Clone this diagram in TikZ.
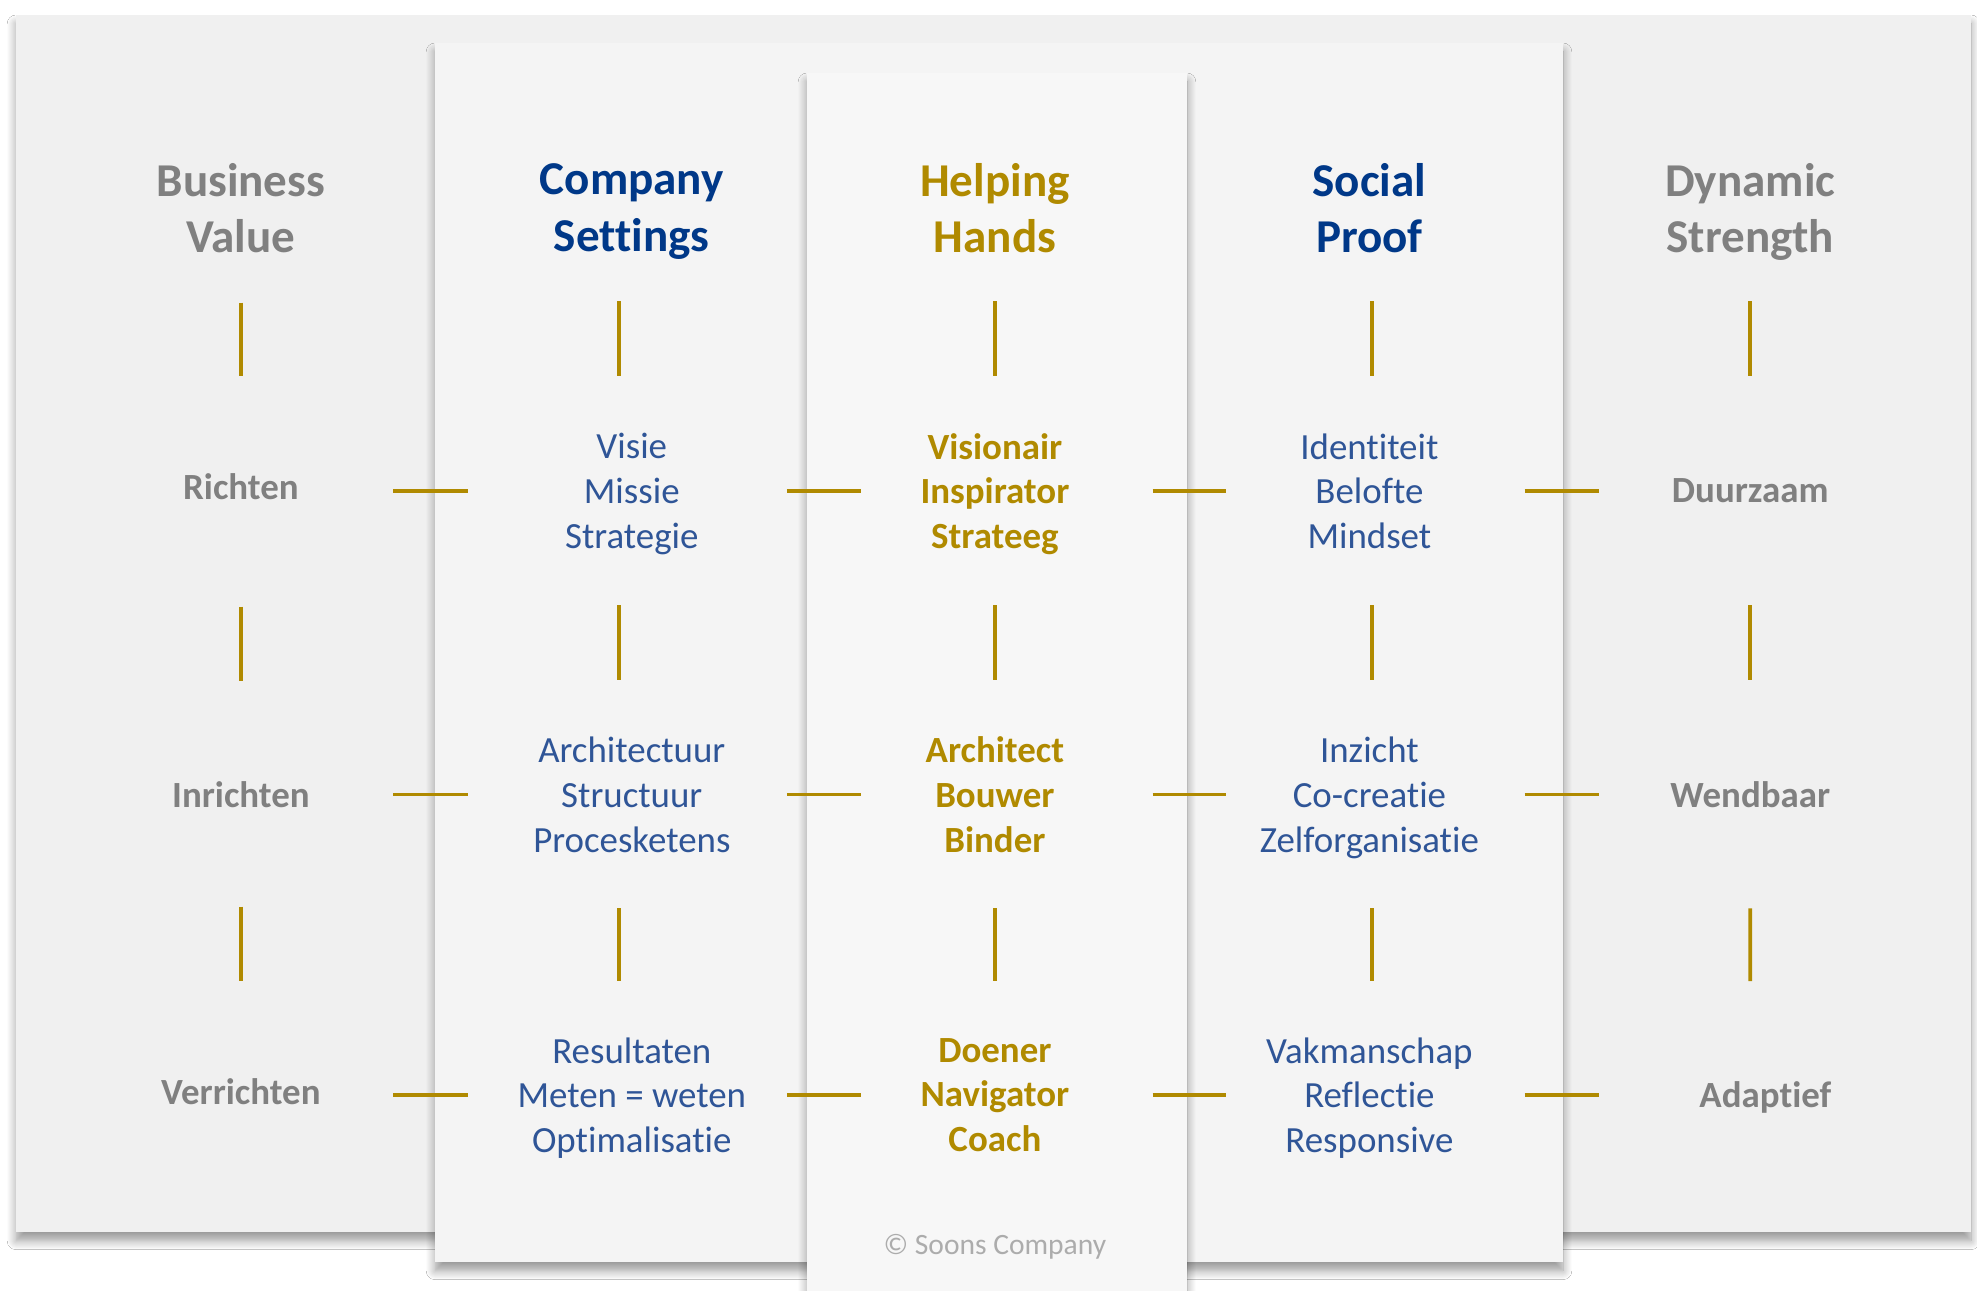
\documentclass[tikz,border=0pt]{standalone}
\usepackage{fontspec}
\setmainfont{Carlito}[Ligatures=NoCommon]
\usepackage{xcolor}
\usepackage{tikz}
\usetikzlibrary{shadows.blur}

\definecolor{headgray}{RGB}{128,128,128}
\definecolor{navy}{RGB}{0,56,136}
\definecolor{textblue}{RGB}{47,85,151}
\definecolor{gold}{RGB}{176,138,0}
\definecolor{copygray}{RGB}{172,172,172}
\definecolor{paperA}{RGB}{240,240,240}
\definecolor{paperB}{RGB}{244,244,244}
\definecolor{paperC}{RGB}{247,247,247}

\begin{document}
\begin{tikzpicture}[
    panel/.style={blur shadow={shadow xshift=0pt, shadow yshift=-2.5pt, shadow blur radius=2.5pt, shadow blur steps=10, shadow opacity=40}},
    heading/.style={align=center, text depth=0pt, font=\fontsize{13.4}{16.2}\selectfont\bfseries},
    entry/.style={align=center, text depth=0pt, text=textblue, font=\fontsize{10.5}{12.75}\selectfont},
    role/.style={entry, text=gold, font=\fontsize{10.5}{12.75}\selectfont\bfseries},
    rowname/.style={text depth=0pt, text=headgray, font=\fontsize{10.5}{12.75}\selectfont\bfseries},
    link/.style={draw=gold, line width=1.05pt},
    toplink/.style={link, shorten <=0.93cm, shorten >=1.15cm},
    vlink/.style={link, shorten <=1.14cm, shorten >=1.14cm}
]
    \useasboundingbox (0,0) rectangle (19.77,-12.90);
    \fill[white] (0,0) rectangle (19.77,-12.90);

    % Papieren achtergrond
    \fill[panel, paperA] (0.16,-0.15) rectangle (19.71,-12.32);
    \fill[panel, paperB] (4.35,-0.43) rectangle (15.63,-12.62);
    \fill[panel, paperC] (8.07,-0.73) rectangle (11.87,-13.20);

    % Kolomkoppen
    \node[heading, text=headgray] (value) at (2.409,-2.08) {Business\\Value};
    \node[heading, text=navy] (settings) at (6.318,-2.08) {Company\\Settings};
    \node[heading, text=gold] (hands) at (9.949,-2.08) {Helping\\Hands};
    \node[heading, text=navy] (proof) at (13.694,-2.08) {Social\\Proof};
    \node[heading, text=headgray] (strength) at (17.503,-2.08) {Dynamic\\Strength};

    % Richten
    \node[rowname] (richten) at (2.409,-4.87) {Richten};
    \node[entry] (visie) at (6.318,-4.91) {Visie\\Missie\\Strategie};
    \node[role] (visionair) at (9.949,-4.91) {Visionair\\Inspirator\\Strateeg};
    \node[entry] (identiteit) at (13.694,-4.91) {Identiteit\\Belofte\\Mindset};
    \node[rowname] (duurzaam) at (17.503,-4.91) {Duurzaam};

    % Inrichten
    \node[rowname] (inrichten) at (2.409,-7.944) {Inrichten};
    \node[entry] (architectuur) at (6.318,-7.944) {Architectuur\\Structuur\\Procesketens};
    \node[role] (architect) at (9.949,-7.944) {Architect\\Bouwer\\Binder};
    \node[entry] (inzicht) at (13.694,-7.944) {Inzicht\\Co-creatie\\Zelforganisatie};
    \node[rowname] (wendbaar) at (17.503,-7.944) {Wendbaar};

    % Verrichten
    \node[rowname] (verrichten) at (2.409,-10.92) {Verrichten};
    \node[entry] (resultaten) at (6.318,-10.95) {Resultaten\\Meten = weten\\Optimalisatie};
    \node[role] (doener) at (9.949,-10.95) {Doener\\Navigator\\Coach};
    \node[entry] (vakmanschap) at (13.694,-10.95) {Vakmanschap\\Reflectie\\Responsive};
    \node[rowname] (adaptief) at (17.654,-10.95) {Adaptief};

    \node[text=copygray, font=\fontsize{8.4}{10}\selectfont] (copyright) at (9.949,-12.47) {© Soons Company};

    % Verticale streepjes
    \draw[link, shorten <=0.946cm, shorten >=1.112cm] (value.center) -- (richten.center);
    \draw[link, shorten <=1.196cm, shorten >=1.135cm] (richten.center) -- (inrichten.center);
    \draw[link, shorten <=1.123cm, shorten >=1.109cm] (inrichten.center) -- (verrichten.center);
    \draw[toplink] ([xshift=-1.26mm]settings.center) -- ([xshift=-1.26mm]visie.center);
    \draw[vlink] ([xshift=-1.26mm]visie.center) -- ([xshift=-1.26mm]architectuur.center);
    \draw[vlink] ([xshift=-1.26mm]architectuur.center) -- ([xshift=-1.26mm]resultaten.center);
    \draw[toplink] (hands.center) -- (visionair.center);
    \draw[vlink] (visionair.center) -- (architect.center);
    \draw[vlink] (architect.center) -- (doener.center);
    \draw[toplink] ([xshift=0.25mm]proof.center) -- ([xshift=0.25mm]identiteit.center);
    \draw[vlink] ([xshift=0.25mm]identiteit.center) -- ([xshift=0.25mm]inzicht.center);
    \draw[vlink] ([xshift=0.25mm]inzicht.center) -- ([xshift=0.25mm]vakmanschap.center);
    \draw[toplink] (strength.center) -- (duurzaam.center);
    \draw[vlink] (duurzaam.center) -- (wendbaar.center);
    \draw[vlink] (wendbaar.center) -- ([xshift=-1.51mm]adaptief.center);

    % Horizontale streepjes
    \draw[link, shorten <=1.525cm, shorten >=1.64cm] (richten.center |- visie.center) -- (visie.center);
    \draw[link, shorten <=1.551cm, shorten >=1.336cm] (visie.center) -- (visionair.center);
    \draw[link, shorten <=1.577cm, shorten >=1.437cm] (visionair.center) -- (identiteit.center);
    \draw[link, shorten <=1.551cm, shorten >=1.514cm] (identiteit.center) -- (duurzaam.center);
    \draw[link, shorten <=1.525cm, shorten >=1.64cm] (inrichten.center) -- (architectuur.center);
    \draw[link, shorten <=1.551cm, shorten >=1.336cm] (architectuur.center) -- (architect.center);
    \draw[link, shorten <=1.577cm, shorten >=1.437cm] (architect.center) -- (inzicht.center);
    \draw[link, shorten <=1.551cm, shorten >=1.514cm] (inzicht.center) -- (wendbaar.center);
    \draw[link, shorten <=1.525cm, shorten >=1.64cm] (verrichten.center |- resultaten.center) -- (resultaten.center);
    \draw[link, shorten <=1.551cm, shorten >=1.336cm] (resultaten.center) -- (doener.center);
    \draw[link, shorten <=1.577cm, shorten >=1.437cm] (doener.center) -- (vakmanschap.center);
    \draw[link, shorten <=1.551cm, shorten >=1.665cm] (vakmanschap.center) -- (adaptief.center);
\end{tikzpicture}
\end{document}
